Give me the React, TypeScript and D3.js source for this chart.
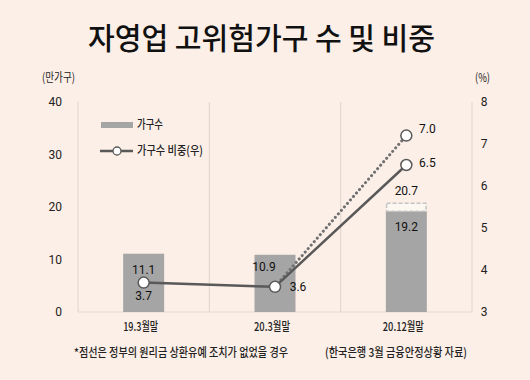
import React from "react";
import * as d3 from "d3";

const categories = ["19.3월말", "20.3월말", "20.12월말"];
const households = [11.1, 10.9, 19.2];
const householdsNoDeferral = [null, null, 20.7];
const ratio = [3.7, 3.6, 6.5];
const ratioNoDeferral = [null, 3.6, 7.2];
const ratioLabels = ["3.7", "3.6", "6.5"];
const ratioNoDeferralLabels = ["", "", "7.0"];
const leftTicks = [0, 10, 20, 30, 40];
const rightTicks = [3, 4, 5, 6, 7, 8];

const W = 530, H = 380;
const M = { left: 78, right: 472, top: 102, bottom: 312 };
const KR = "'Noto Sans CJK KR', 'Noto Sans', sans-serif";
const NUM = "'Liberation Sans Narrow', 'Roboto', 'Noto Sans CJK KR', sans-serif";

export default function App() {
  const x = d3.scaleBand<string>().domain(categories).range([M.left, M.right]).padding(0);
  const yL = d3.scaleLinear().domain([0, 40]).range([M.bottom, M.top]);
  const yR = d3.scaleLinear().domain([3, 8]).range([M.bottom, M.top]);
  const cx = (i: number) => (x(categories[i]) as number) + x.bandwidth() / 2;
  const barW = 41;
  const gridC = "#e4d9d0";
  const barC = "#a5a5a5";
  const lineC = "#595959";

  const solidLine = d3.line<number>().x((_, i) => cx(i)).y((d) => yR(d))(ratio) as string;
  const dashedPts = ratioNoDeferral.map((v, i) => ({ v, i })).filter((p) => p.v != null) as { v: number; i: number }[];
  const dashedLine = d3.line<{ v: number; i: number }>().x((p) => cx(p.i)).y((p) => yR(p.v))(dashedPts) as string;
  const xLabelW = [35, 36, 41];

  return (
    <svg width={W} height={H} style={{ display: "block", position: "absolute", left: 0, top: 0 }}>
      <rect x={0} y={0} width={W} height={H} fill="#fcefe7" />
      <text x={88} y={49} fontFamily={KR} fontSize={30} fontWeight={500} fill="#111"
        textLength={347} lengthAdjust="spacingAndGlyphs">
        자영업 고위험가구 수 및 비중
      </text>
      {/* frame */}
      <line x1={M.left} x2={M.left} y1={M.top} y2={M.bottom} stroke={gridC} strokeWidth={1.2} />
      <line x1={M.right} x2={M.right} y1={M.top} y2={M.bottom} stroke={gridC} strokeWidth={1.2} />
      <line x1={M.left} x2={M.right} y1={M.bottom} y2={M.bottom} stroke={gridC} strokeWidth={1.2} />
      {categories.slice(1).map((c) => (
        <line key={c} x1={x(c)} x2={x(c)} y1={M.top} y2={M.bottom} stroke={gridC} strokeWidth={1.2} />
      ))}
      {/* axis labels */}
      <text x={42} y={82} fontFamily={KR} fontSize={12} fill="#222" textLength={33} lengthAdjust="spacingAndGlyphs">(만가구)</text>
      <text x={475} y={82} fontFamily={KR} fontSize={12} fill="#222" textLength={15} lengthAdjust="spacingAndGlyphs">(%)</text>
      {leftTicks.map((t) => (
        <text key={t} x={62} y={yL(t) + 4} textAnchor="end" fontFamily={NUM} fontSize={12} fill="#222">{t}</text>
      ))}
      {rightTicks.map((t) => (
        <text key={t} x={484} y={yR(t) + 4} textAnchor="middle" fontFamily={NUM} fontSize={12} fill="#222">{t}</text>
      ))}
      {/* bars */}
      {households.map((v, i) => (
        <rect key={i} x={cx(i) - barW / 2} y={yL(v)} width={barW} height={yL(0) - yL(v)} fill={barC} />
      ))}
      {householdsNoDeferral.map((v, i) =>
        v == null ? null : (
          <rect key={"d" + i} x={cx(i) - barW / 2 + 0.75} y={yL(v)} width={barW - 1.5} height={yL(households[i]) - yL(v)}
            fill="#fdf7f2" stroke="#c4c4c4" strokeWidth={1.5} strokeDasharray="4,2" />
        )
      )}
      {/* lines */}
      <path d={dashedLine} fill="none" stroke="#707070" strokeWidth={3} strokeDasharray="0.1,4.5" strokeLinecap="round" />
      <path d={solidLine} fill="none" stroke={lineC} strokeWidth={2.5} />
      {dashedPts.slice(1).map((p) => (
        <circle key={"dc" + p.i} cx={cx(p.i)} cy={yR(p.v)} r={5.5} fill="#fff" stroke={lineC} strokeWidth={1.5} />
      ))}
      {ratio.map((v, i) => (
        <circle key={"c" + i} cx={cx(i)} cy={yR(v)} r={5.5} fill="#fff" stroke={lineC} strokeWidth={1.5} />
      ))}
      {/* value labels */}
      <text x={cx(0)} y={yL(households[0]) + 20} textAnchor="middle" fontFamily={NUM} fontSize={12} fill="#111">{households[0].toFixed(1)}</text>
      <text x={cx(1) - 11} y={yL(households[1]) + 16} textAnchor="middle" fontFamily={NUM} fontSize={12} fill="#111">{households[1].toFixed(1)}</text>
      <text x={cx(2)} y={yL(households[2]) + 20} textAnchor="middle" fontFamily={NUM} fontSize={12} fill="#111">{households[2].toFixed(1)}</text>
      <text x={cx(2)} y={yL(householdsNoDeferral[2] as number) - 8} textAnchor="middle" fontFamily={NUM} fontSize={12} fill="#111">{(householdsNoDeferral[2] as number).toFixed(1)}</text>
      <text x={cx(0)} y={yR(ratio[0]) + 17} textAnchor="middle" fontFamily={NUM} fontSize={12} fill="#111">{ratioLabels[0]}</text>
      <text x={cx(1) + 23} y={yR(ratio[1]) + 4} textAnchor="middle" fontFamily={NUM} fontSize={12} fill="#111">{ratioLabels[1]}</text>
      <text x={cx(2) + 21} y={yR(ratio[2]) + 2} textAnchor="middle" fontFamily={NUM} fontSize={12} fill="#111">{ratioLabels[2]}</text>
      <text x={cx(2) + 21} y={yR(ratioNoDeferral[2] as number) - 3} textAnchor="middle" fontFamily={NUM} fontSize={12} fill="#111">{ratioNoDeferralLabels[2]}</text>
      {/* legend */}
      <rect x={101} y={122} width={32} height={6} fill={barC} />
      <text x={137} y={129} fontFamily={KR} fontSize={12} fontWeight={500} fill="#222" textLength={26} lengthAdjust="spacingAndGlyphs">가구수</text>
      <line x1={100} x2={133} y1={151} y2={151} stroke={lineC} strokeWidth={2.5} />
      <circle cx={117} cy={151} r={4} fill="#fff" stroke={lineC} strokeWidth={1.3} />
      <text x={137} y={155} fontFamily={KR} fontSize={12} fontWeight={500} fill="#222" textLength={66} lengthAdjust="spacingAndGlyphs">가구수 비중(우)</text>
      {/* x labels */}
      {categories.map((c, i) => (
        <text key={c} x={cx(i) - 3 - xLabelW[i] / 2} y={331} fontFamily={KR} fontSize={12} fontWeight={500} fill="#222"
          textLength={xLabelW[i]} lengthAdjust="spacingAndGlyphs">{c}</text>
      ))}
      <text x={74} y={357} fontFamily={KR} fontSize={12} fontWeight={500} fill="#222" textLength={214} lengthAdjust="spacingAndGlyphs">*점선은 정부의 원리금 상환유예 조치가 없었을 경우</text>
      <text x={325} y={357} fontFamily={KR} fontSize={12} fontWeight={500} fill="#222" textLength={142} lengthAdjust="spacingAndGlyphs">(한국은행 3월 금융안정상황 자료)</text>
    </svg>
  );
}
